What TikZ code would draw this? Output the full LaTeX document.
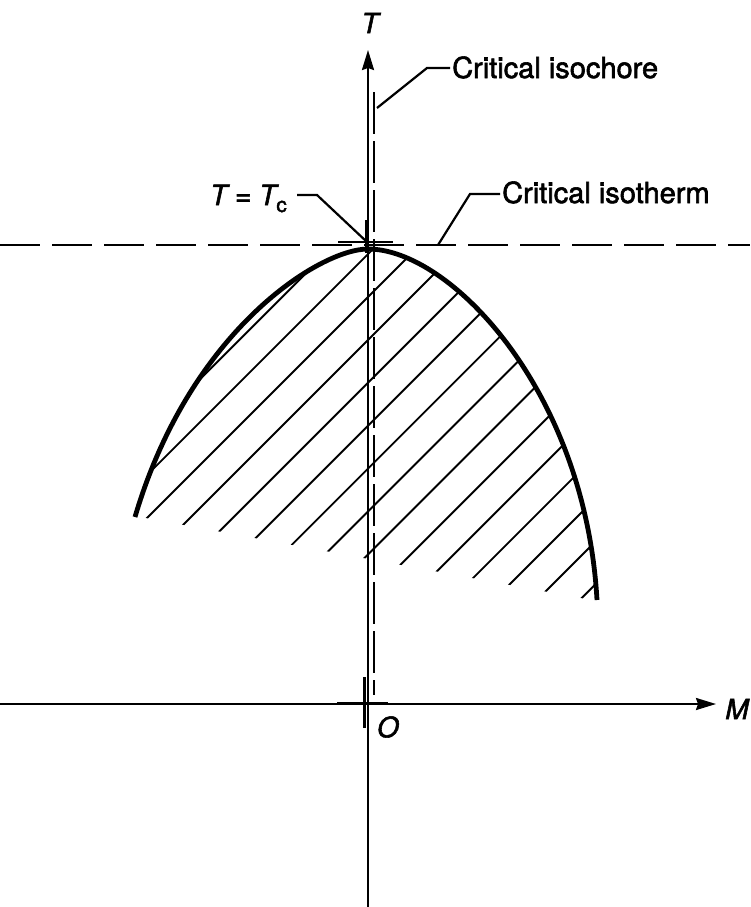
\documentclass[tikz,border=0pt]{standalone}
\usepackage{fontspec}
\setmainfont{TeX Gyre Heros}[FakeBold=2]
\usetikzlibrary{arrows.meta,calc}
\begin{document}
\begin{tikzpicture}[x=1pt,y=-1pt,
  axis/.style={line width=2.2pt},
  arr/.style={-{Stealth[length=20pt,width=12pt,inset=2pt]}},
  hdash/.style={line width=2.4pt, dash pattern=on 40pt off 12pt},
  vdash/.style={line width=2.4pt, dash pattern=on 42pt off 7pt},
  coex/.style={line width=4.8pt},
  hatchline/.style={line width=1.9pt},
  tickmark/.style={line width=3pt},
  lbl/.style={font=\fontsize{29}{34}\selectfont, inner sep=2pt},
  axlbl/.style={font=\fontsize{28}{32}\selectfont\itshape, inner sep=0pt},
  leader/.style={line width=2.2pt}]
\useasboundingbox (0,0) rectangle (750,907);

% key coordinates
\coordinate (O) at (368,704);
\coordinate (Bot) at (368,907);
\coordinate (Top) at (368,50);
\coordinate (Left) at (0,704);
\coordinate (Right) at (716,704);
\coordinate (C) at (368,245);
\coordinate (Apex) at (368,249);
\coordinate (CurveL) at (135,517);
\coordinate (CurveR) at (597,600);
\coordinate (IsoL) at (0,245);
\coordinate (IsoR) at (750,245);
\coordinate (ChTop) at (374,92);
\coordinate (ChBot) at (374,695);

% hatching inside the coexistence region
\begin{scope}
  \clip (CurveL) .. controls (190,330) and (320,249) .. (Apex)
        .. controls (450,249) and (585,390) .. (CurveR) -- (597,601) -- (135,516) -- cycle;
  \foreach \k in {-2,...,12}{
    \pgfmathsetmacro{\c}{665+42.9*\k}
    \draw[hatchline] ({\c-640},640) -- ({\c-230},230);
  }
\end{scope}

% coexistence curve
\draw[coex] (CurveL) .. controls (190,330) and (320,249) .. (Apex)
        .. controls (450,249) and (585,390) .. (CurveR);

% dashed lines
\draw[hdash] (IsoL) -- (IsoR);
\draw[vdash] (ChTop) -- (ChBot);

% axes
\draw[axis,arr] (Bot) -- (Top);
\draw[axis,arr] (Left) -- (Right);

% ticks
\draw[tickmark] ($(O)+(-31,-1)$) -- ($(O)+(20,-1)$);
\draw[tickmark] ($(O)+(-4,-27)$) -- ($(O)+(-4,24)$);
\draw[line width=2.5pt] ($(C)+(-30,-3)$) -- ($(C)+(25,-3)$);
\draw[tickmark] ($(C)+(-2,-25)$) -- ($(C)+(-2,8)$);

% axis labels
\node[axlbl] (Tlab) at (370,23) {T};
\node[axlbl] (Mlab) at (737,709) {M};
\node[axlbl] (Olab) at (388,727) {O};

% annotation labels
\node[lbl,anchor=base west] (isoch) at (450,78) {Critical isochore};
\node[lbl,anchor=base west] (isoth) at (500,203) {Critical isotherm};
\node[font=\fontsize{28}{32}\selectfont,inner sep=2pt,anchor=base west] (Tc) at (208,205)
  {\itshape T\upshape\ = \itshape T\upshape\raisebox{-7pt}{\fontsize{21}{22}\selectfont c}};

\coordinate (isochTip) at (377,108);
\coordinate (isothTip) at (438,245);
\coordinate (TcTip) at (367,242);

\draw[leader] (isoch.base west |- 0,68) -- ++(-23,0) -- (isochTip);
\draw[leader] (isoth.base west |- 0,194) -- ++(-30,0) -- (isothTip);
\draw[leader] ($(Tc.base east)+(8,-10)$) -- (317,195) -- (TcTip);
\end{tikzpicture}
\end{document}
